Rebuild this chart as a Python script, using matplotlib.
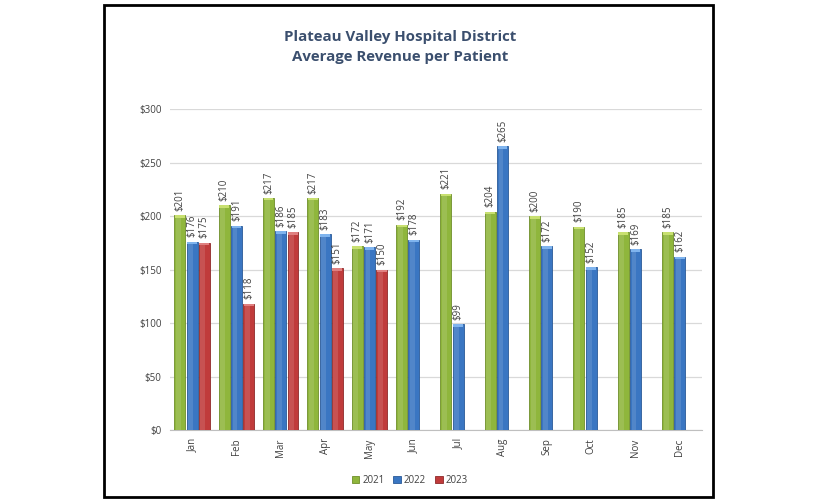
### AVERAGE REVENUE PER PATIENT - GROUPED BAR CHART
### IMPORT LIBRARIES ###
import numpy as np
import matplotlib.pyplot as plt
from matplotlib.patches import Rectangle

### DATA ###
months = ['Jan', 'Feb', 'Mar', 'Apr', 'May', 'Jun',
          'Jul', 'Aug', 'Sep', 'Oct', 'Nov', 'Dec']
rev_2021 = [201, 210, 217, 217, 172, 192, 221, 204, 200, 190, 185, 185]
rev_2022 = [176, 191, 186, 183, 171, 178, 99, 265, 172, 152, 169, 162]
rev_2023 = [175, 118, 185, 151, 150]
years = ['2021', '2022', '2023']
yticks = [0, 50, 100, 150, 200, 250, 300]

colors = ['#8FB63C', '#3A76C2', '#C03B3B']
edges = ['#6E8E2A', '#2A5A98', '#8E2A2A']
caps = ['#C8E070', '#7FB4EE', '#E08080']
text_grey = '#404040'

### FIGURE ###
fig = plt.figure(figsize=(8.16, 5.04), dpi=100)
plt.rcParams['font.family'] = ['Open Sans', 'DejaVu Sans']

# Black frame round the chart
fig.patches.append(Rectangle((0.127, 0.013), 0.747, 0.977, transform=fig.transFigure,
                             fill=False, edgecolor='black', linewidth=2))

ax = fig.add_axes([0.2083, 0.1468, 0.652, 0.6369])

x = np.arange(len(months))
w = 0.275
series = [rev_2021, rev_2022, rev_2023]
for i, vals in enumerate(series):
    xs = x[:len(vals)] + (i - 1) * w
    ax.bar(xs, vals, width=w * 0.9, color=colors[i], edgecolor=edges[i],
           linewidth=0.6, label=years[i], zorder=3)
    # lighter left part for a bit of shading
    ax.bar(xs - w * 0.12, vals, width=w * 0.4, color='white', alpha=0.12,
           linewidth=0, zorder=4)
    # light cap on top of each bar
    ax.bar(xs, [2.5] * len(vals), bottom=np.array(vals) - 2.5, width=w * 0.8,
           color=caps[i], linewidth=0, zorder=4)
    for xi, v in zip(xs, vals):
        ax.text(xi, v + 4, '$%d' % v, rotation=90, ha='center', va='bottom',
                fontsize=7, color=text_grey, zorder=5)

ax.set_ylim(0, 300)
ax.set_xlim(-0.5, len(months) - 0.5)
ax.set_yticks(yticks)
ax.set_yticklabels(['$%d' % t for t in yticks], fontsize=7, color=text_grey)
ax.set_xticks(x)
ax.set_xticklabels(months, rotation=90, fontsize=7, color=text_grey)
ax.tick_params(axis='both', length=0, pad=6)
ax.yaxis.grid(True, color='#D9D9D9', linewidth=0.9, zorder=0)
for s in ['top', 'right', 'left']:
    ax.spines[s].set_visible(False)
ax.spines['bottom'].set_color('#BFBFBF')

fig.text(0.49, 0.907, 'Plateau Valley Hospital District\nAverage Revenue per Patient',
         ha='center', va='center', fontsize=10.8, fontweight='bold',
         color='#3B4F6E', linespacing=1.55)

fig.legend(loc='center', bbox_to_anchor=(0.502, 0.047), ncol=3, frameon=False,
           fontsize=7, handlelength=0.8, handleheight=0.8, handletextpad=0.3,
           columnspacing=0.9, labelcolor=text_grey)

fig.savefig('out.png', dpi=100)
